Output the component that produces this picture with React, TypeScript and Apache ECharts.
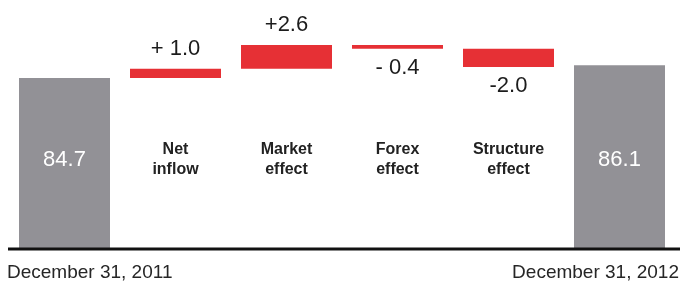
import React, { useEffect, useRef } from 'react';
import * as echarts from 'echarts';

const startValue = 84.7;
const endValue = 86.1;
const stepNames = ['Net\ninflow', 'Market\neffect', 'Forex\neffect', 'Structure\neffect'];
const stepChanges = [1.0, 2.6, -0.4, -2.0];
const stepLabels = ['+ 1.0', '+2.6', '- 0.4', '-2.0'];
const dateLabels = ['December 31, 2011', 'December 31, 2012'];

const FONT = '"Liberation Sans", Arial, Helvetica, sans-serif';
const RED = '#e63035';
const GRAY = '#929196';
const INK = '#1c1c1c';

export default function App() {
  const ref = useRef<HTMLDivElement>(null);
  useEffect(() => {
    const chart = echarts.init(ref.current!, null, { renderer: 'svg' });
    const categories = ['start', ...stepNames, 'end'];
    const baseData: any[] = ['-'];
    const changeData: any[] = ['-'];
    let running = startValue;
    stepChanges.forEach((c, i) => {
      const next = Math.round((running + c) * 100) / 100;
      baseData.push(Math.min(running, next));
      changeData.push({
        value: Math.abs(c),
        label: {
          position: c >= 0 ? 'top' : 'bottom',
          distance: c >= 0 ? 10 : 7,
          formatter: stepLabels[i],
        },
      });
      running = next;
    });
    baseData.push('-');
    changeData.push('-');
    const totalData: any[] = [startValue, ...stepChanges.map(() => '-'), endValue];

    chart.setOption({
      animation: false,
      grid: { left: 9, right: 7, top: 28, bottom: 35 },
      xAxis: {
        type: 'category',
        data: categories,
        axisLine: { show: false },
        axisTick: { show: false },
        axisLabel: {
          inside: true,
          margin: 71,
          fontSize: 16,
          lineHeight: 20,
          fontWeight: 'bold',
          color: '#222222',
          fontFamily: FONT,
          interval: 0,
          formatter: (v: string, i: number) => (i === 0 || i === categories.length - 1 ? '' : v),
        },
      },
      yAxis: {
        type: 'value',
        min: 66.05,
        max: 90.15,
        show: false,
      },
      series: [
        {
          name: 'base',
          type: 'bar',
          stack: 'w',
          barWidth: 91,
          itemStyle: { color: 'rgba(0,0,0,0)' },
          data: baseData,
          silent: true,
        },
        {
          name: 'change',
          type: 'bar',
          stack: 'w',
          barWidth: 91,
          itemStyle: { color: RED },
          label: {
            show: true,
            fontSize: 22,
            color: INK,
            fontFamily: FONT,
          },
          data: changeData,
        },
        {
          name: 'total',
          type: 'bar',
          stack: 'w',
          barWidth: 91,
          itemStyle: { color: GRAY },
          label: {
            show: true,
            position: 'insideBottom',
            distance: 80,
            fontSize: 22,
            color: '#ffffff',
            fontFamily: FONT,
            formatter: (p: any) => Number(p.value).toFixed(1),
          },
          data: totalData,
        },
      ],
      graphic: [
        {
          type: 'line',
          shape: { x1: 8, y1: 249, x2: 680, y2: 249 },
          style: { stroke: '#111', lineWidth: 3 },
          z: 10,
        },
        {
          type: 'text',
          left: 7,
          top: 262,
          style: { text: dateLabels[0], fontSize: 19, fill: '#262626', fontFamily: FONT },
        },
        {
          type: 'text',
          right: 3,
          top: 262,
          style: { text: dateLabels[1], fontSize: 19, fill: '#262626', fontFamily: FONT },
        },
      ],
    });
    return () => chart.dispose();
  }, []);
  return <div ref={ref} style={{ position: 'fixed', left: 0, top: 0, width: 682, height: 284 }} />;
}
